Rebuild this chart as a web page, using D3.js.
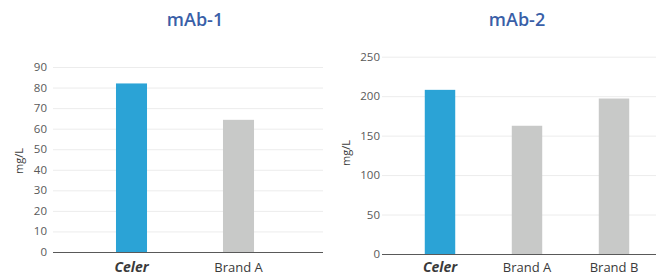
<!DOCTYPE html>
<html>
<head>
<meta charset="utf-8">
<script src="https://cdn.jsdelivr.net/npm/d3@7/dist/d3.min.js"></script>
<style>
  body { margin: 0; background: #fff; }
  svg { display: block; font-family: "Open Sans", sans-serif; }
  .grid line { stroke: #ececec; stroke-width: 1; }
  .tick-label { fill: #595959; font-size: 11.5px; }
  .unit { fill: #404040; font-size: 11px; }
  .title { fill: #3a5fa8; font-size: 18px; font-weight: 600; }
</style>
</head>
<body>
<svg id="wrapper" width="664" height="275"></svg>
<script>
const blue = '#2ba3d6', grey = '#c8c9c8';

// mAb-1
const cats1 = ['Celer', 'Brand A'];
const vals1 = [82, 64.3];
const ticks1 = [0, 10, 20, 30, 40, 50, 60, 70, 80, 90];

// mAb-2
const cats2 = ['Celer', 'Brand A', 'Brand B'];
const vals2 = [208, 162.5, 197];
const ticks2 = [0, 50, 100, 150, 200, 250];

const svg = d3.select('#wrapper');

function drawPanel(opt) {
  const g = svg.append('g');
  let y = d3.scaleLinear().domain([0, opt.max]).range([opt.y0, opt.y1]);
  let x = d3.scaleBand().domain(opt.cats).range(opt.band)
    .paddingInner(opt.pad).paddingOuter(opt.pad / 2);

  // gridlines
  g.append('g').attr('class', 'grid')
    .selectAll('line').data(opt.ticks.slice(1)).join('line')
    .attr('x1', opt.left).attr('x2', opt.right)
    .attr('y1', d => y(d) + 0.5).attr('y2', d => y(d) + 0.5);

  // tick labels
  g.selectAll('text.tick-label').data(opt.ticks).join('text')
    .attr('class', 'tick-label')
    .attr('x', opt.labelX).attr('y', d => y(d))
    .attr('dy', '0.35em').attr('text-anchor', 'end')
    .text(d => d);

  // bars
  g.selectAll('rect').data(opt.vals).join('rect')
    .attr('x', (d, i) => x(opt.cats[i]))
    .attr('width', x.bandwidth())
    .attr('y', d => y(d))
    .attr('height', d => y(0) - y(d))
    .attr('fill', (d, i) => i === 0 ? blue : grey);

  // baseline
  g.append('line')
    .attr('x1', opt.left).attr('x2', opt.right)
    .attr('y1', y(0) + 0.5).attr('y2', y(0) + 0.5)
    .attr('stroke', '#595959').attr('stroke-width', 1.2);

  // category labels
  g.selectAll('text.cat').data(opt.cats).join('text')
    .attr('class', 'cat')
    .attr('x', d => x(d) + x.bandwidth() / 2)
    .attr('y', 272)
    .attr('text-anchor', 'middle')
    .attr('fill', '#3a3a3a')
    .style('font-size', (d, i) => i === 0 ? '14px' : '13px')
    .style('font-weight', (d, i) => i === 0 ? 700 : 400)
    .style('font-style', (d, i) => i === 0 ? 'italic' : 'normal')
    .text(d => d);

  // unit label
  g.append('text')
    .attr('class', 'unit')
    .attr('transform', 'translate(' + opt.unitX + ',' + opt.unitY + ') rotate(-90)')
    .attr('text-anchor', 'middle')
    .text('mg/L');

  // title
  g.append('text')
    .attr('class', 'title')
    .attr('x', opt.titleX).attr('y', 26)
    .attr('text-anchor', 'middle')
    .text(opt.title);
}

drawPanel({
  title: 'mAb-1', cats: cats1, vals: vals1, ticks: ticks1, max: 90,
  y0: 252, y1: 67, left: 53, right: 323, band: [78, 292], pad: 0.71,
  labelX: 47, unitX: 23, unitY: 161, titleX: 195
});

drawPanel({
  title: 'mAb-2', cats: cats2, vals: vals2, ticks: ticks2, max: 250,
  y0: 254, y1: 56.7, left: 382, right: 656, band: [396.5, 657.5], pad: 0.65,
  labelX: 380, unitX: 350, unitY: 153, titleX: 517
});
</script>
</body>
</html>
